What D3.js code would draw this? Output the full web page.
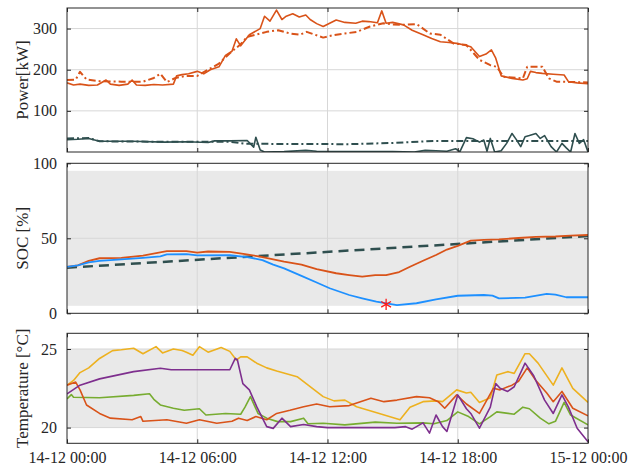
<!DOCTYPE html>
<html>
<head>
<meta charset="utf-8">
<script src="https://cdn.jsdelivr.net/npm/d3@7"></script>
<style>
  body { margin: 0; background: #fff; }
  svg text { font-family: "Liberation Serif", "Times New Roman", serif; fill: #262626; }
</style>
</head>
<body>
<div id="chart"></div>
<script>
// ---- data : [hour, value] ----
var xTicks = [0, 6, 12, 18, 24];
var xTickLabels = ["14-12 00:00", "14-12 06:00", "14-12 12:00", "14-12 18:00", "15-12 00:00"];

var powerLoad = [[0,168],[0.3,163],[0.6,165],[1.0,162],[1.4,163],[1.8,175],[2.0,165],[2.4,162],[2.8,165],[3.0,175],[3.2,163],[3.6,162],[4.0,164],[4.4,163],[4.9,165],[5.05,185],[5.3,188],[5.6,190],[6.0,196],[6.3,190],[6.6,200],[7.0,207],[7.3,235],[7.6,245],[7.8,275],[8.0,258],[8.4,285],[8.9,300],[9.1,330],[9.35,318],[9.65,345],[9.9,322],[10.1,330],[10.4,336],[10.7,328],[11.0,333],[11.2,322],[11.5,312],[11.8,305],[12.1,313],[12.4,321],[12.8,315],[13.3,313],[13.6,318],[13.9,317],[14.3,314],[14.5,343],[14.7,313],[15.0,315],[15.5,309],[15.9,296],[16.4,285],[16.8,276],[17.2,268],[17.6,266],[17.95,264],[18.3,260],[18.6,256],[19.0,232],[19.3,238],[19.55,248],[19.75,228],[20.0,185],[20.5,179],[21.0,175],[21.2,178],[21.35,196],[21.6,193],[21.9,191],[22.4,189],[22.9,187],[23.1,171],[23.5,168],[24,166]];
var powerRef = [[0,175],[0.4,176],[0.6,195],[0.9,176],[1.5,172],[2.5,171],[3.5,171],[4.0,180],[4.3,190],[4.6,170],[5.0,180],[5.5,185],[6.0,185],[6.5,200],[7.0,215],[7.5,240],[8.0,262],[8.3,280],[8.7,285],[9.2,292],[9.73,296],[10.27,288],[10.73,285],[11.04,292],[11.8,278],[12.27,284],[12.8,288],[13.34,292],[13.96,305],[14.57,313],[15.0,310],[15.49,309],[16.1,311],[16.4,300],[16.72,288],[17.2,285],[17.8,264],[18.4,260],[19.0,224],[19.5,211],[19.8,207],[20.1,183],[21.0,179],[21.2,207],[21.9,207],[22.2,179],[22.55,171],[23.3,170],[24,169]];
var gridRef = [[0,33],[1,34],[1.5,26],[4,25],[7.5,25],[8.2,20],[13,19],[15,22],[17,27],[24,27]];
var gridPower = [[0,30],[0.5,31],[1,33],[1.5,26],[3,26],[4.5,24],[5.5,25],[6.5,23],[6.8,27],[7.5,27],[8.3,28],[8.6,12],[8.7,36],[8.9,5],[9.1,0],[10,1],[11,4],[11.5,2],[13,1],[15,1],[16,0],[16.5,4],[17.0,3],[17.5,2],[17.9,8],[18.1,1],[18.4,35],[18.7,32],[19.0,24],[19.2,29],[19.35,2],[19.5,33],[19.7,0],[20.0,3],[20.25,21],[20.5,45],[20.7,30],[20.9,13],[21.1,37],[21.3,40],[21.6,45],[21.8,33],[22.0,40],[22.3,13],[22.55,0],[22.8,21],[23.0,10],[23.2,0],[23.4,45],[23.6,21],[23.8,30],[24,0]];

var socRef = [[0,31],[0.5,32],[1,35],[1.5,36.7],[2.5,37],[3.5,38.5],[4.6,41.5],[5.5,41.4],[6,40.4],[6.5,41.2],[7.5,41],[8.2,39.5],[8.9,37.8],[9.5,36],[10,34.4],[10.8,32.5],[11.5,29.5],[12.4,26.7],[13.0,25.5],[13.6,24.4],[14.2,25.5],[14.7,25.5],[15.3,27.5],[15.8,31],[16.4,35],[17,38.9],[17.5,42.5],[18,45],[18.6,48.4],[19.2,49],[19.9,49.3],[20.8,50.2],[21.6,51],[22.5,51.2],[23.2,51.8],[24,52.2]];
var socOpt = [[0,31],[0.5,32],[1,34],[1.5,35],[2.5,36],[3.5,37],[4.3,38],[4.6,39.3],[5.5,39.5],[6,38.6],[7.5,38.7],[8.3,37.5],[9.0,35.5],[9.5,32.5],[10,30],[10.8,25],[11.5,20.5],[12.1,16.7],[13,12.2],[13.6,10],[14.25,7.8],[15.2,5.5],[16.1,6.7],[17,9.3],[18,11.7],[19.2,12.2],[19.6,11.8],[19.9,10],[21.1,10.4],[22.1,12.9],[22.5,12.5],[23.0,10.7],[24,10.7]];
var socTarget = [[0,30.4],[24,51.5]];
var socMin = [[14.7,6]];
var socBand = [5, 95];

var tempYellow = [[0,22.7],[0.3,23.0],[0.6,23.5],[1.0,23.8],[1.5,24.4],[2.1,24.9],[2.5,24.95],[3.07,25.05],[3.5,24.7],[4.1,25.15],[4.4,24.75],[4.9,25.0],[5.3,24.9],[5.5,24.8],[5.8,24.6],[6.1,25.15],[6.5,24.8],[7.1,25.1],[7.5,24.85],[7.8,24.3],[8.0,24.5],[8.3,24.5],[8.74,24.1],[9.2,23.8],[9.66,23.6],[10.6,23.24],[11.2,22.6],[11.8,21.97],[12.3,21.7],[12.8,21.75],[13.34,21.33],[14.27,20.95],[15.34,20.5],[15.8,21.3],[16.4,21.65],[17.0,21.7],[17.3,21.65],[17.95,22.4],[18.4,22.2],[18.6,22.25],[19.0,21.6],[19.5,21.9],[19.8,23.35],[20.3,23.56],[20.6,23.45],[21.1,24.7],[21.3,24.7],[21.7,24.1],[22.4,22.7],[22.8,23.8],[23.3,22.5],[24,21.6]];
var tempOrange = [[0,22.7],[0.4,22.9],[0.6,22.4],[0.9,21.44],[1.5,20.9],[2.0,20.6],[3.0,20.5],[3.4,20.7],[3.5,20.4],[4.6,20.5],[5.5,20.28],[6.1,20.5],[6.9,20.28],[7.6,20.4],[7.9,20.6],[8.3,20.45],[8.7,20.7],[9.2,20.5],[9.66,20.9],[10.27,21.1],[10.9,21.33],[11.5,21.5],[12.1,21.33],[13,21.4],[14,21.87],[14.6,21.65],[15.2,21.75],[16.1,21.97],[16.7,21.9],[17.1,21.65],[17.4,21.23],[17.95,22.08],[18.4,21.5],[19.0,20.9],[19.64,22.5],[19.95,22.4],[20.5,22.7],[20.8,22.95],[21.2,23.8],[21.6,23.0],[22.1,22.2],[22.4,21.65],[22.8,22.3],[23.3,21.23],[24,20.75]];
var tempPurple = [[0,22.14],[0.6,22.7],[1.5,23.1],[3.07,23.56],[4.3,23.78],[4.8,23.68],[7.5,23.68],[7.75,24.4],[7.85,24.3],[8.1,22.8],[8.4,22.4],[8.75,21.3],[9.2,20.06],[9.5,19.95],[9.9,20.6],[10.3,20.06],[10.9,20.2],[11.5,20.06],[12,20.0],[15.1,20.0],[15.6,20.06],[15.9,19.9],[16.4,20.3],[16.7,19.65],[17.0,20.8],[17.3,20.06],[17.5,19.75],[18.0,22.08],[18.4,21.2],[18.6,20.9],[19.0,19.96],[19.5,21.3],[19.75,22.8],[19.95,22.5],[20.3,22.3],[20.6,22.6],[21.1,24.1],[21.5,23.3],[22.0,21.75],[22.4,20.9],[22.8,22.08],[23.1,21.3],[23.5,19.96],[24,19.1]];
var tempGreen = [[0,21.82],[0.2,22.1],[0.3,21.93],[1.5,21.9],[3.07,22.05],[3.8,22.15],[4.0,21.8],[4.3,21.44],[4.9,21.23],[5.4,21.1],[6.1,21.2],[6.4,20.8],[7.3,20.9],[8.0,20.85],[8.2,21.3],[8.45,21.97],[8.8,20.9],[9.2,20.6],[9.7,20.38],[10.3,20.38],[10.9,20.6],[11.1,20.24],[11.8,20.28],[12.8,20.17],[14.2,20.35],[15.2,20.28],[16.4,20.3],[16.9,20.24],[17.5,20.45],[18.0,21.0],[18.5,20.7],[19.0,20.24],[19.5,20.7],[19.8,21.0],[20.6,20.85],[21.0,21.3],[21.3,21.2],[21.8,20.6],[22.2,20.24],[22.5,20.4],[22.9,21.6],[23.2,20.8],[24,20.17]];
var tempBand = [20, 25];

// ---- layout ----
var W = 636, H = 468;
var left = 67, right = 588;
var serif = '"Liberation Serif", "Times New Roman", serif';

var svg = d3.select("#chart").append("svg")
  .attr("width", W).attr("height", H);

var x = d3.scaleLinear().domain([0, 24]).range([left, right]);

var panels = [
  {top: 8, bottom: 152, domain: [0, 350], ticks: [100, 200, 300], grid: [100, 200, 300], label: "Power[kW]"},
  {top: 163.3, bottom: 313.3, domain: [0, 100], ticks: [0, 50, 100], grid: [50], label: "SOC [%]", band: socBand},
  {top: 333.3, bottom: 443.3, domain: [19, 26], ticks: [20, 25], grid: [20, 25], label: "Temperature [°C]", band: tempBand}
];

panels.forEach(function(p, i) {
  p.y = d3.scaleLinear().domain(p.domain).range([p.bottom, p.top]);
  var g = svg.append("g");
  p.g = g;
  var clipId = "clip" + i;
  svg.append("clipPath").attr("id", clipId)
    .append("rect").attr("x", left).attr("y", p.top)
    .attr("width", right - left).attr("height", p.bottom - p.top);
  p.clip = "url(#" + clipId + ")";

  if (p.band) {
    g.append("rect")
      .attr("x", left).attr("width", right - left)
      .attr("y", p.y(p.band[1])).attr("height", p.y(p.band[0]) - p.y(p.band[1]))
      .attr("fill", "#e9e9e9");
  }
  // grid
  g.selectAll(".hg").data(p.grid).enter().append("line")
    .attr("x1", left).attr("x2", right)
    .attr("y1", function(d) { return p.y(d); }).attr("y2", function(d) { return p.y(d); })
    .attr("stroke", "#d7d7d7").attr("stroke-width", 1);
  g.selectAll(".vg").data([6, 12, 18]).enter().append("line")
    .attr("x1", function(d) { return x(d); }).attr("x2", function(d) { return x(d); })
    .attr("y1", p.top).attr("y2", p.bottom)
    .attr("stroke", "#d7d7d7").attr("stroke-width", 1);
});

function drawAxes(p, i) {
  var g = svg.append("g");
  // left/right
  g.append("g").attr("transform", "translate(" + left + ",0)")
    .call(d3.axisLeft(p.y).tickValues(p.ticks).tickSizeInner(-4).tickSizeOuter(0).tickPadding(10)
      .tickFormat(d3.format("d")));
  g.append("g").attr("transform", "translate(" + right + ",0)")
    .call(d3.axisRight(p.y).tickValues(p.ticks).tickSizeInner(-4).tickSizeOuter(0).tickFormat(""));
  // top/bottom
  g.append("g").attr("transform", "translate(0," + p.top + ")")
    .call(d3.axisTop(x).tickValues(xTicks).tickSizeInner(-4).tickSizeOuter(0).tickFormat(""));
  g.append("g").attr("transform", "translate(0," + p.bottom + ")")
    .call(d3.axisBottom(x).tickValues(xTicks).tickSizeInner(-4).tickSizeOuter(0).tickPadding(8)
      .tickFormat(function(d, j) { return i == 2 ? xTickLabels[j] : ""; }));
  g.selectAll("g").attr("font-family", serif);
  g.selectAll(".domain").remove();
  g.selectAll(".tick line").attr("stroke", "#262626");
  g.selectAll(".tick text").attr("font-size", 16).attr("fill", "#262626")
    .style("font-family", serif);
  // frame
  g.append("rect").attr("x", left).attr("y", p.top)
    .attr("width", right - left).attr("height", p.bottom - p.top)
    .attr("fill", "none").attr("stroke", "#262626").attr("stroke-width", 1);
  // y label
  g.append("text")
    .attr("transform", "translate(22," + ((p.top + p.bottom) / 2) + ") rotate(-90)")
    .attr("text-anchor", "middle").attr("dy", "0.35em")
    .style("font-size", "17px").style("font-family", serif)
    .text(p.label);
}

function addLine(p, data, color, width, dash) {
  var line = d3.line()
    .x(function(d) { return x(d[0]); })
    .y(function(d) { return p.y(d[1]); });
  p.g.append("path")
    .datum(data)
    .attr("clip-path", p.clip)
    .attr("d", line)
    .attr("fill", "none")
    .attr("stroke", color)
    .attr("stroke-width", width)
    .attr("stroke-linejoin", "round")
    .attr("stroke-dasharray", dash || null);
}

var orange = "#D95319", slate = "#2F4F4F", blue = "#1E90FF",
    yellow = "#EDB120", purple = "#7E2F8E", green = "#77AC30";

// power
addLine(panels[0], gridRef, slate, 2, "7,3,2,3");
addLine(panels[0], gridPower, slate, 1.6);
addLine(panels[0], powerRef, orange, 2, "7,3,2,3");
addLine(panels[0], powerLoad, orange, 1.6);

// soc
addLine(panels[1], socTarget, slate, 2.5, "10,6");
addLine(panels[1], socRef, orange, 1.8);
addLine(panels[1], socOpt, blue, 1.8);
var star = d3.symbol().type(d3.symbolAsterisk).size(90);
panels[1].g.selectAll(".star").data(socMin).enter().append("path")
  .attr("d", star)
  .attr("transform", function(d) { return "translate(" + x(d[0]) + "," + panels[1].y(d[1]) + ")"; })
  .attr("fill", "none").attr("stroke", "#ff1a1a").attr("stroke-width", 1.3);

// temperature
addLine(panels[2], tempYellow, yellow, 1.6);
addLine(panels[2], tempGreen, green, 1.6);
addLine(panels[2], tempOrange, orange, 1.6);
addLine(panels[2], tempPurple, purple, 1.6);

panels.forEach(drawAxes);
</script>
</body>
</html>
